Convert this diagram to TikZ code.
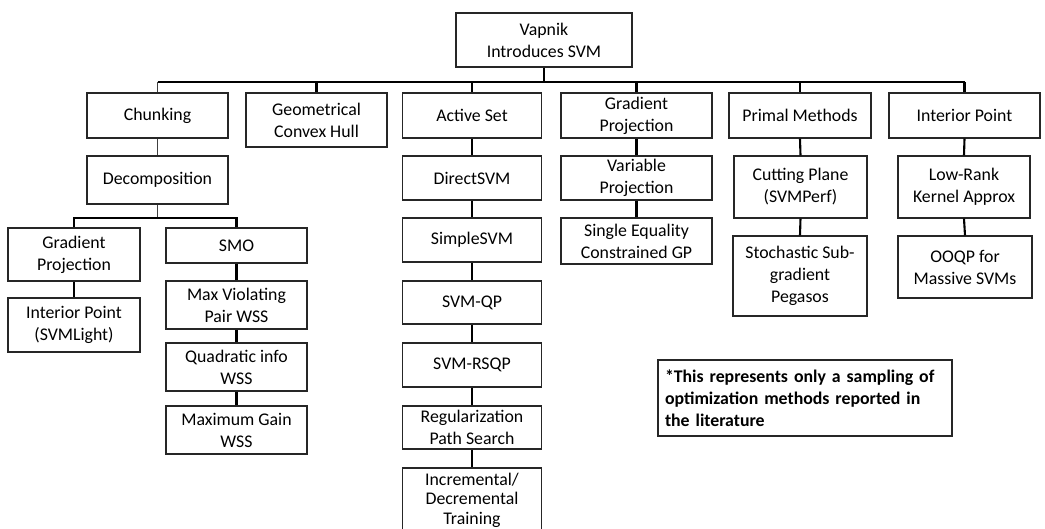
\documentclass[tikz,border=0pt]{standalone}
\usepackage{fontspec}
\setmainfont{Carlito}
\begin{document}
\begin{tikzpicture}[x=1pt,y=-1pt,
  box/.style={draw=black!85, line width=1.1pt, fill=white, align=center, inner sep=2pt,
    font=\fontsize{17.8}{22}\selectfont},
  conn/.style={line width=2.1pt, black},
  thin/.style={line width=1.1pt, black!75}]
\useasboundingbox (0,0) rectangle (1045,529);
\clip (0,0) rectangle (1045,529);
% level 0/1
\node[box, minimum width=176pt, minimum height=54pt] (vap) at (544,40) {Vapnik\\Introduces SVM};
\node[box, minimum width=141pt, minimum height=45pt] (chunk) at (157.5,115.5) {Chunking};
\node[box, minimum width=141pt, minimum height=54pt] (geo) at (316.5,120) {Geometrical\\Convex Hull};
\node[box, minimum width=139pt, minimum height=45pt] (act) at (472,115.5) {Active Set};
\node[box, minimum width=151pt, minimum height=45pt] (gp) at (636.5,115.5) {Gradient\\Projection};
\node[box, minimum width=142pt, minimum height=45pt] (primal) at (800,115.5) {Primal Methods};
\node[box, minimum width=151pt, minimum height=45pt] (ip) at (964.5,115.5) {Interior Point};
% level 2
\node[box, minimum width=141pt, minimum height=48pt] (decomp) at (157.5,180) {Decomposition};
\node[box, minimum width=139pt, minimum height=44pt] (direct) at (472,178) {DirectSVM};
\node[box, minimum width=151pt, minimum height=44pt] (varproj) at (636.5,178) {Variable\\Projection};
\node[box, minimum width=133pt, minimum height=62pt] (cut) at (800.5,187) {Cutting Plane\\(SVMPerf)};
\node[box, minimum width=132pt, minimum height=62pt] (lowrank) at (964,187) {Low-Rank\\Kernel Approx};
% level 3
\node[box, minimum width=132pt, minimum height=53pt] (gpl) at (74,254.5) {Gradient\\Projection};
\node[box, minimum width=141pt, minimum height=35pt] (smo) at (236.5,245.5) {SMO};
\node[box, minimum width=139pt, minimum height=44pt] (simple) at (472,240) {SimpleSVM};
\node[box, minimum width=151pt, minimum height=46pt] (seq) at (636.5,241) {Single Equality\\Constrained GP};
\node[box, minimum width=134pt, minimum height=80pt] (stoch) at (800,276) {Stochastic Sub-\\gradient\\Pegasos};
\node[box, minimum width=134pt, minimum height=62pt] (ooqp) at (965,267) {OOQP for\\Massive SVMs};
% deeper
\node[box, minimum width=132pt, minimum height=54pt] (ipl) at (74,325) {Interior Point\\(SVMLight)};
\node[box, minimum width=141pt, minimum height=48pt] (mvp) at (236.5,305) {Max Violating\\Pair WSS};
\node[box, minimum width=141pt, minimum height=48pt] (qi) at (236.5,367) {Quadratic info\\WSS};
\node[box, minimum width=141pt, minimum height=48pt] (mg) at (236.5,430) {Maximum Gain\\WSS};
\node[box, minimum width=139pt, minimum height=43pt] (svmqp) at (472,302.5) {SVM-QP};
\node[box, minimum width=139pt, minimum height=44pt] (rsqp) at (472,365) {SVM-RSQP};
\node[box, minimum width=139pt, minimum height=43pt] (reg) at (472,427.5) {Regularization\\Path Search};
\node[box, minimum width=139pt, minimum height=64pt, font=\fontsize{17.8}{19.5}\selectfont] (inc) at (472,500) {Incremental/\\Decremental\\Training};
\node[box, minimum width=294pt, minimum height=76pt, align=left, text width=280pt, font=\fontsize{17.8}{22}\selectfont\bfseries] (note) at (805,398) {*This represents only a sampling of\\optimization methods reported in\\the literature};
% connectors
\coordinate (b0) at (vap.south |- 0,82);
\draw[conn] (vap.south) -- (b0);
\draw[conn] (chunk.north |- b0) -- (ip.north |- b0);
\draw[thin] (chunk.north |- b0) -- (chunk.north);
\draw[conn] (geo.north |- b0) -- (geo.north);
\draw[conn] (act.north |- b0) -- (act.north);
\draw[conn] (gp.north |- b0) -- (gp.north);
\draw[conn] (primal.north |- b0) -- (primal.north);
\draw[conn] (ip.north |- b0) -- (ip.north);
\draw[thin] (chunk.south) -- (decomp.north);
\coordinate (b1) at (decomp.south |- 0,218);
\draw[thin] (decomp.south) -- (b1);
\draw[conn] (gpl.north) -- (gpl.north |- b1) -- (smo.north |- b1) -- (smo.north);
\draw[conn] (gpl.south) -- (ipl.north);
\draw[conn] (smo.south) -- (mvp.north);
\draw[conn] (mvp.south) -- (qi.north);
\draw[conn] (qi.south) -- (mg.north);
\draw[conn] (act.south) -- (direct.north);
\draw[conn] (direct.south) -- (simple.north);
\draw[conn] (simple.south) -- (svmqp.north);
\draw[conn] (svmqp.south) -- (rsqp.north);
\draw[conn] (rsqp.south) -- (reg.north);
\draw[conn] (reg.south) -- (inc.north);
\draw[conn] (gp.south) -- (varproj.north);
\draw[conn] (varproj.south) -- (seq.north);
\draw[conn] (primal.south) -- (cut.north);
\draw[conn] (cut.south) -- (stoch.north);
\draw[conn] (ip.south) -- (lowrank.north);
\draw[conn] (lowrank.south) -- (ooqp.north);
\end{tikzpicture}
\end{document}
